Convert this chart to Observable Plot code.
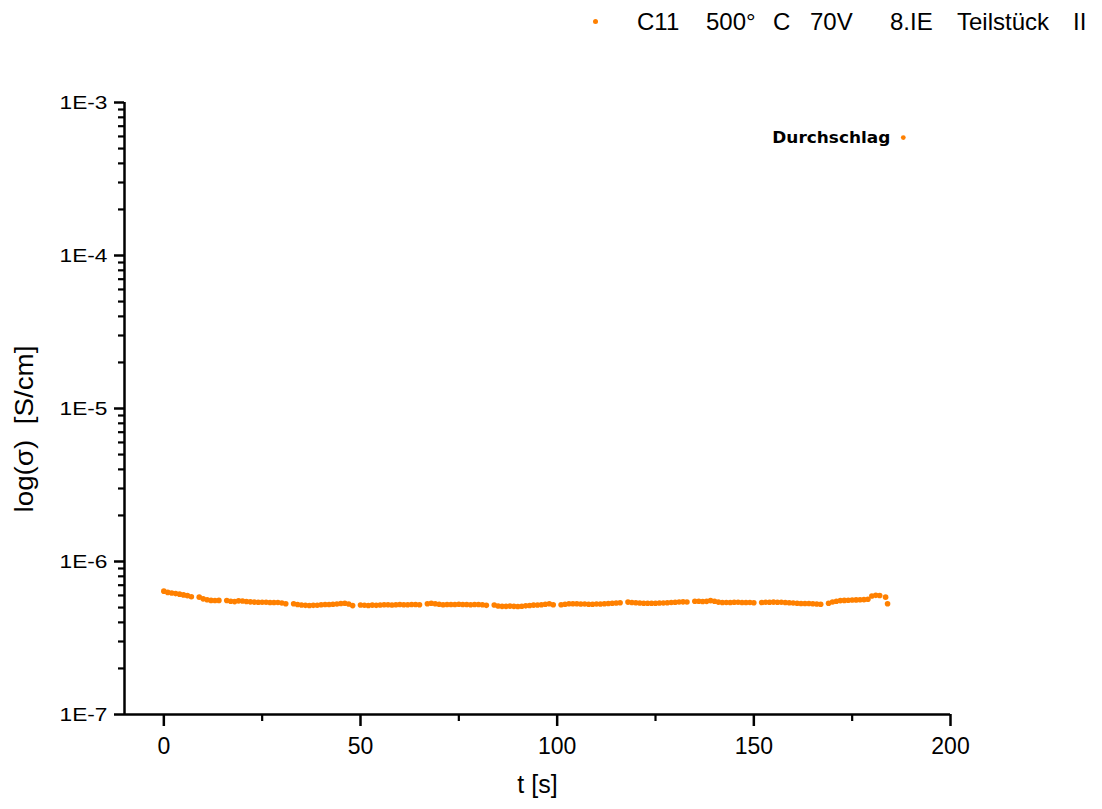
<!DOCTYPE html>
<html>
<head>
<meta charset="utf-8">
<script src="https://cdn.jsdelivr.net/npm/d3@7"></script>
<script src="https://cdn.jsdelivr.net/npm/@observablehq/plot@0.6"></script>
<style>
  body { margin: 0; background: #fff; }
  #legend { position: relative; width: 1102px; height: 45px; font-family: "Liberation Sans", Arial, sans-serif; font-size: 24px; color: #000; }
  #legend span.w { position: absolute; top: 10px; line-height: 24px; white-space: pre; }
  #legend span.dot { position: absolute; width: 5px; height: 5px; border-radius: 50%; background: #ff8000; }
</style>
</head>
<body>
<div id="legend"></div>
<div id="chart"></div>
<script>
// ---- data ----
const seriesName = "C11  500° C  70V    8.IE  Teilstück II";
const legendWords = ["C11", "500°", "C", "70V", "8.IE", "Teilstück", "II"];
const legendWordLeft = [637, 706, 773, 810, 890, 957, 1073];

const tValues = [
  0,1,2,3,4,5,6,7,
  9,10,11,12,13,14,
  16,17,18,19,20,21,22,23,24,25,26,27,28,29,30,31,
  33,34,35,36,37,38,39,40,41,42,43,44,45,46,47,48,
  50,51,52,53,54,55,56,57,58,59,60,61,62,63,64,65,
  67,68,69,70,71,72,73,74,75,76,77,78,79,80,81,82,
  84,85,86,87,88,89,90,91,92,93,94,95,96,97,98,99,
  101,102,103,104,105,106,107,108,109,110,111,112,113,114,115,116,
  118,119,120,121,122,123,124,125,126,127,128,129,130,131,132,133,
  135,136,137,138,139,140,141,142,143,144,145,146,147,148,149,150,
  152,153,154,155,156,157,158,159,160,161,162,163,164,165,166,167,
  169,170,171,172,173,174,175,176,177,178,179,180,181,182,
  183.5,184
];
const sigmaValues = [
  6.40e-7,6.28e-7,6.22e-7,6.17e-7,6.12e-7,6.05e-7,5.98e-7,5.88e-7,
  5.85e-7,5.70e-7,5.62e-7,5.57e-7,5.56e-7,5.57e-7,
  5.56e-7,5.50e-7,5.47e-7,5.53e-7,5.52e-7,5.48e-7,5.45e-7,5.43e-7,5.42e-7,5.41e-7,5.41e-7,5.40e-7,5.40e-7,5.39e-7,5.36e-7,5.30e-7,
  5.29e-7,5.24e-7,5.20e-7,5.17e-7,5.16e-7,5.17e-7,5.18e-7,5.21e-7,5.23e-7,5.24e-7,5.25e-7,5.27e-7,5.31e-7,5.33e-7,5.28e-7,5.15e-7,
  5.20e-7,5.18e-7,5.16e-7,5.19e-7,5.17e-7,5.20e-7,5.22e-7,5.21e-7,5.20e-7,5.22e-7,5.23e-7,5.22e-7,5.21e-7,5.23e-7,5.24e-7,5.22e-7,
  5.29e-7,5.33e-7,5.30e-7,5.26e-7,5.22e-7,5.23e-7,5.24e-7,5.24e-7,5.25e-7,5.24e-7,5.23e-7,5.22e-7,5.23e-7,5.24e-7,5.22e-7,5.17e-7,
  5.20e-7,5.12e-7,5.09e-7,5.09e-7,5.11e-7,5.09e-7,5.08e-7,5.10e-7,5.13e-7,5.16e-7,5.19e-7,5.20e-7,5.21e-7,5.25e-7,5.29e-7,5.22e-7,
  5.21e-7,5.26e-7,5.29e-7,5.30e-7,5.29e-7,5.28e-7,5.27e-7,5.26e-7,5.26e-7,5.27e-7,5.28e-7,5.29e-7,5.31e-7,5.33e-7,5.35e-7,5.37e-7,
  5.43e-7,5.40e-7,5.37e-7,5.35e-7,5.34e-7,5.33e-7,5.34e-7,5.34e-7,5.35e-7,5.36e-7,5.37e-7,5.39e-7,5.42e-7,5.44e-7,5.45e-7,5.44e-7,
  5.50e-7,5.50e-7,5.48e-7,5.49e-7,5.55e-7,5.50e-7,5.43e-7,5.40e-7,5.39e-7,5.40e-7,5.42e-7,5.41e-7,5.40e-7,5.40e-7,5.39e-7,5.38e-7,
  5.40e-7,5.41e-7,5.42e-7,5.43e-7,5.42e-7,5.41e-7,5.40e-7,5.38e-7,5.36e-7,5.34e-7,5.32e-7,5.32e-7,5.32e-7,5.30e-7,5.28e-7,5.25e-7,
  5.33e-7,5.44e-7,5.50e-7,5.55e-7,5.57e-7,5.58e-7,5.60e-7,5.61e-7,5.62e-7,5.63e-7,5.66e-7,5.95e-7,6.01e-7,6.00e-7,
  5.85e-7,5.30e-7
];

const breakdownT = [188];
const breakdownSigma = [5.9e-4];
const breakdownLabel = ["Durchschlag"];

const xTicks = [0, 50, 100, 150, 200];
const xMinorTicks = [25, 75, 125, 175];
const yTicks = [1e-7, 1e-6, 1e-5, 1e-4, 1e-3];
const yTickLabels = ["1E-7", "1E-6", "1E-5", "1E-4", "1E-3"];
const yMinorTicks = [];
for (const base of [1e-7, 1e-6, 1e-5, 1e-4]) for (let k = 2; k <= 9; k++) yMinorTicks.push(k * base);

const xTitle = "t [s]";
const yTitle = "log(σ)  [S/cm]";
const orange = "#ff8000";

// ---- legend ----
const legend = document.getElementById("legend");
const dot = document.createElement("span");
dot.className = "dot"; dot.style.left = "593px"; dot.style.top = "19px";
legend.appendChild(dot);
legendWords.forEach((w, i) => {
  const s = document.createElement("span");
  s.className = "w"; s.textContent = w; s.style.left = legendWordLeft[i] + "px";
  legend.appendChild(s);
});
legend.setAttribute("title", seriesName);

// ---- chart ----
const axisFont = "Liberation Sans, Arial, sans-serif";
const chart = Plot.plot({
  width: 1102,
  height: 764,
  marginLeft: 124,
  marginRight: 152,
  marginTop: 57,
  marginBottom: 95,
  style: { fontFamily: axisFont, color: "#000", background: "#fff", overflow: "visible" },
  x: { domain: [-10, 200] },
  y: { type: "log", domain: [1e-7, 1e-3] },
  marks: [
    Plot.axisY(yTicks, { tickSize: 10, tickPadding: 7, fontSize: 19, strokeWidth: 2.5, label: null,
      tickFormat: d => yTickLabels[yTicks.indexOf(d)] }),
    Plot.axisY(yMinorTicks, { tickSize: 6, strokeWidth: 2.2, tickFormat: () => "", label: null }),
    Plot.axisX(xTicks, { tickSize: 12, tickPadding: 11, fontSize: 23, strokeWidth: 2.5, label: null }),
    Plot.axisX(xMinorTicks, { tickSize: 7, strokeWidth: 2.2, tickFormat: () => "", label: null }),
    Plot.ruleX([-10], { strokeWidth: 2.5 }),
    Plot.ruleY([1e-7], { strokeWidth: 2.5 }),
    Plot.text([xTitle], { frameAnchor: "bottom", dy: 78, fontSize: 25 }),
    Plot.text([yTitle], { frameAnchor: "left", dx: -100, dy: 104, rotate: -90, textAnchor: "start", fontSize: 25 }),
    Plot.dot(sigmaValues, { x: tValues, y: sigmaValues, r: 2.8, fill: orange, stroke: null }),
    Plot.dot(breakdownSigma, { x: breakdownT, y: breakdownSigma, r: 2.4, fill: orange, stroke: null }),
    Plot.text(breakdownLabel, { x: breakdownT, y: breakdownSigma, dx: -13, textAnchor: "end",
      fontFamily: "DejaVu Sans", fontWeight: "bold", fontSize: 16 })
  ]
});
document.getElementById("chart").appendChild(chart);

// stretch text to match the reference's widened lettering
chart.querySelectorAll("text").forEach(t => {
  const s = t.textContent;
  let len = null;
  if (/^1E-\d$/.test(s)) len = 48;
  else if (s === yTitle) len = 167;
  else if (s === "Durchschlag") len = 118;
  if (len) { t.setAttribute("textLength", len); t.setAttribute("lengthAdjust", "spacingAndGlyphs"); }
});
</script>
</body>
</html>
